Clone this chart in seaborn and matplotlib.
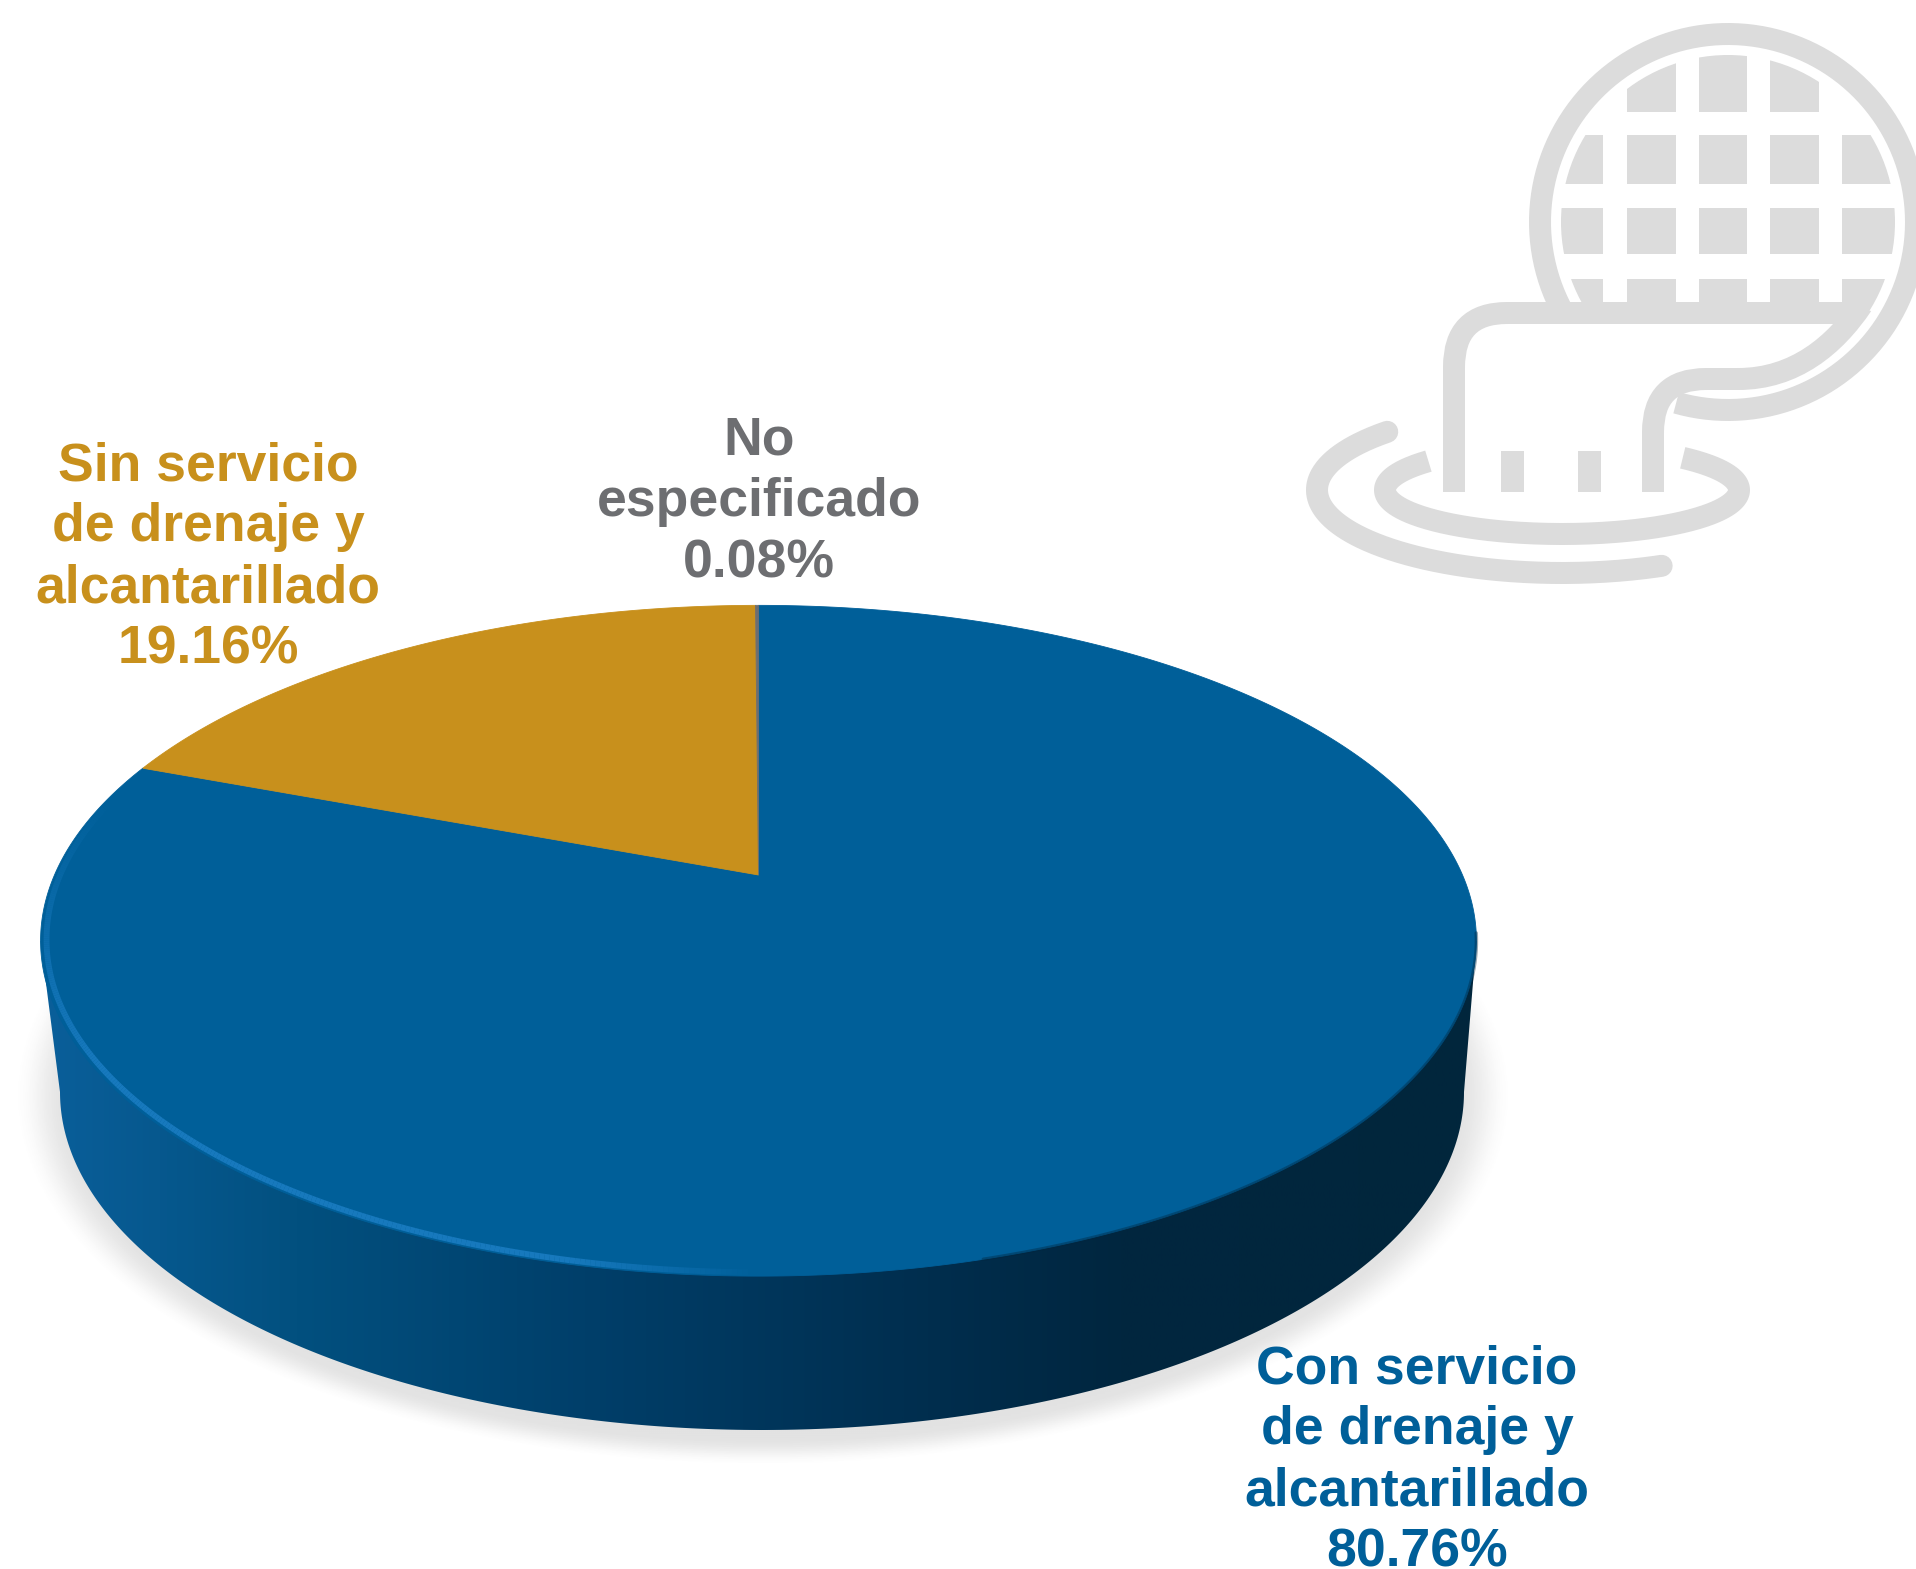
import numpy as np
import matplotlib
matplotlib.use("Agg")
import matplotlib.pyplot as plt
import seaborn as sns
from matplotlib.collections import LineCollection
from matplotlib.colors import LinearSegmentedColormap, to_rgb
from matplotlib.patches import Circle, PathPatch, Rectangle, Polygon
from matplotlib.path import Path

categories = ["Con servicio\nde drenaje y\nalcantarillado", "Sin servicio\nde drenaje y\nalcantarillado", "No\nespecificado"]
values = [80.76, 19.16, 0.08]
value_labels = ["80.76%", "19.16%", "0.08%"]
slice_colors = ["#005f99", "#c8901c", "#6d6e71"]
wall_stops = ["#0a5f9b", "#02507f", "#003f6a", "#002f50", "#01263f", "#02263c"]
ICON = "#dcdcdc"

sns.set_theme(style="white")
plt.rcParams["font.family"] = ["Liberation Sans", "DejaVu Sans"]
palette = sns.color_palette(slice_colors)

fig = plt.figure(figsize=(19.16, 15.69), dpi=100)
ax = fig.add_axes([0, 0, 1, 1])

# perspective projection of the unit disc onto the page
K, XC, E, Y0, D = 0.196, 758.5, 704.0, 875.0, -151.0
def project(x, y):
    w = 1 + K * y
    return XC + E * x / w, (Y0 + D * y) / w

# soft shadow
X, Y = np.meshgrid(np.arange(0, 1916, 2), np.arange(800, 1569, 2))
r = np.sqrt(((X - 762) / 724) ** 2 + ((Y - 1095) / 358) ** 2)
s = np.clip((1.035 - r) / 0.075, 0, 1)
rgba = np.zeros(X.shape + (4,))
rgba[..., :3] = 0.45
rgba[..., 3] = 0.20 * s * s * (3 - 2 * s)
ax.imshow(rgba, extent=(0, 1916, 1569, 800), origin="upper", aspect="auto", zorder=1)

# side wall
t = np.linspace(np.pi, 0, 300)
bx, by = 762 + 702 * np.cos(t), 1092 + 338 * np.sin(t)
wall = np.vstack([[XC - E / np.sqrt(1 - K**2), 941], np.column_stack([bx, by]),
                  [XC + E / np.sqrt(1 - K**2), 941]])
cmap = LinearSegmentedColormap.from_list("wall", list(zip([0, .18, .38, .6, .75, 1], wall_stops)))
im = ax.imshow(np.linspace(0, 1, 512)[None, :], extent=(36, 1482, 1440, 930), cmap=cmap,
               aspect="auto", zorder=2)
clip = Polygon(wall, closed=True, transform=ax.transData, fc="none", ec="none")
ax.add_patch(clip)
im.set_clip_path(clip)

# top face: slices run clockwise from the top
edges = np.cumsum([0] + values) / sum(values) * 2 * np.pi
for i, col in enumerate(palette):
    a = np.linspace(edges[i], edges[i + 1], max(3, int((edges[i + 1] - edges[i]) * 200)))
    px, py = project(np.sin(a), np.cos(a))
    cx, cy = project(0.0, 0.0)
    ax.fill(np.r_[cx, px], np.r_[cy, py], color=col, lw=0.6, zorder=3)

# lighter rim on front-left, dark soft edge on the right
a = np.linspace(np.radians(180), np.radians(285), 300)
px, py = project(0.992 * np.sin(a), 0.992 * np.cos(a))
pts = np.column_stack([px, py])
segs = np.stack([pts[:-1], pts[1:]], axis=1)
f = np.linspace(0, 1, len(segs))
al = np.clip(f / 0.12, 0, 1) * np.clip((1 - f) / 0.45, 0, 1) * 0.9
base = to_rgb("#1a7cc2")
ax.add_collection(LineCollection(segs, colors=[(*base, v) for v in al], linewidths=4.2, zorder=4))

a = np.linspace(np.radians(100), np.radians(165), 200)
px, py = project(np.sin(a), np.cos(a))
ax.plot(px, py, color="#01263f", lw=2.5, alpha=0.4, zorder=4)

# labels
text_pos = [(1417, 1461), (208, 558), (759, 502)]
text_cols = [palette[0], palette[1], palette[2]]
for cat, lab, (x, y), c in zip(categories, value_labels, text_pos, text_cols):
    ax.text(x, y, f"{cat}\n{lab}", ha="center", va="center", fontsize=38.5, fontweight="bold",
            color=c, linespacing=1.29, zorder=6, clip_on=False)

# ---- icon ----
ICX, ICY, R = 1728, 222, 188
LW = 22 * 0.72
def stroke(pts, cap="butt", **kw):
    pts = np.asarray(pts)
    ax.plot(pts[:, 0], pts[:, 1], color=ICON, lw=LW, solid_capstyle=cap, solid_joinstyle="round", zorder=5, **kw)

th = np.radians(np.linspace(207, -106, 400))
stroke(np.column_stack([ICX + R * np.cos(th), ICY - R * np.sin(th)]))

clip_c = Circle((ICX, ICY), 167, transform=ax.transData, fc="none", ec="none")
ax.add_patch(clip_c)
col_edges = [(1540, 1603), (1627, 1676), (1699, 1747), (1770, 1819), (1842, 1905)]
row_edges = [(55, 112), (135, 184), (208, 254), (279, 310)]
for j, (y0, y1) in enumerate(row_edges):
    for i, (x0, x1) in enumerate(col_edges):
        if j == 0 and i in (0, 4):
            continue
        rect = Rectangle((x0, y0), x1 - x0, y1 - y0, fc=ICON, ec="none", zorder=5)
        ax.add_patch(rect)
        rect.set_clip_path(clip_c)

pipe1 = Path([(1454, 492), (1454, 367), (1454, 313), (1507, 313), (1860, 313)],
             [Path.MOVETO, Path.LINETO, Path.CURVE3, Path.CURVE3, Path.LINETO])
pipe2 = Path([(1653, 492), (1653, 432), (1653, 379), (1706, 379), (1738, 379),
              (1795, 379), (1835, 345), (1862, 305)],
             [Path.MOVETO, Path.LINETO, Path.CURVE3, Path.CURVE3, Path.LINETO,
              Path.CURVE4, Path.CURVE4, Path.CURVE4])
for p in (pipe1, pipe2):
    ax.add_patch(PathPatch(p, fc="none", ec=ICON, lw=LW, capstyle="butt", joinstyle="round", zorder=5))
for x0 in (1501, 1578):
    ax.add_patch(Rectangle((x0, 451), 23, 41, fc=ICON, ec="none", zorder=5))

# water rings
th = np.radians(np.linspace(139, 360 + 47, 300))
stroke(np.column_stack([1562 + 177 * np.cos(th), 490 - 44 * np.sin(th)]))
th = np.radians(np.linspace(135.5, 294, 300))
stroke(np.column_stack([1562 + 245 * np.cos(th), 490 - 83 * np.sin(th)]), cap="round")

ax.set_xlim(0, 1916)
ax.set_ylim(1569, 0)
ax.axis("off")
fig.savefig("out.png", dpi=100, facecolor="white")
